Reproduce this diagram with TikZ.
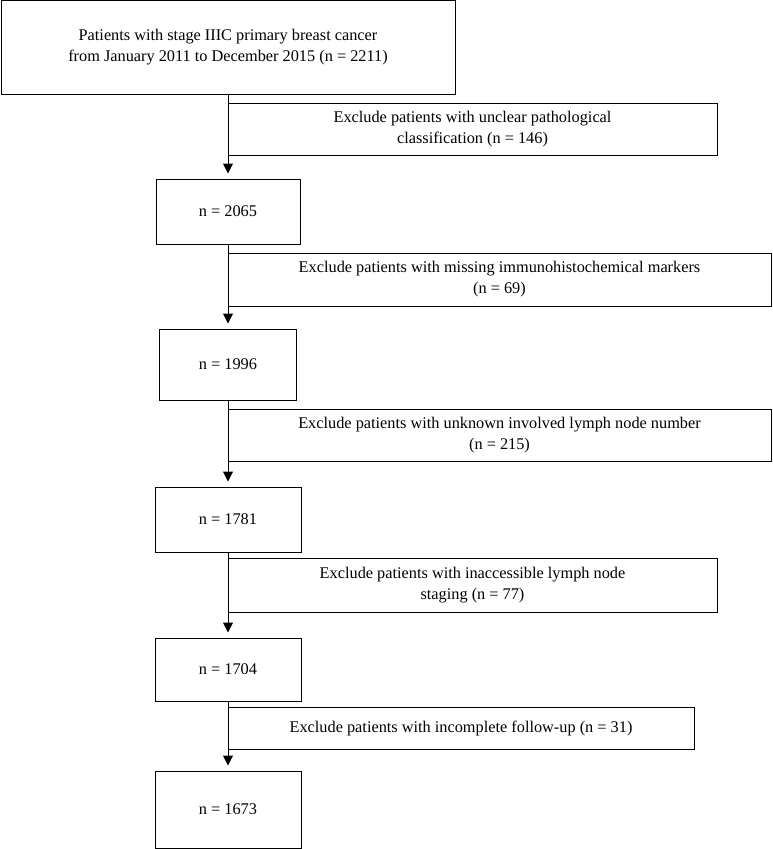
\documentclass[tikz,border=0pt]{standalone}
\usepackage{fontspec}
\setmainfont{Liberation Serif}
\usetikzlibrary{arrows.meta}
\begin{document}
\begin{tikzpicture}[x=1pt, y=-1pt,
  box/.style={draw, line width=1pt, align=center, inner sep=0pt, font=\fontsize{16.3}{21}\selectfont},
  flow/.style={line width=1pt, -{Triangle[length=10pt, width=10pt]}, shorten >=5pt}]
\useasboundingbox (0,0) rectangle (773,849);

% Main boxes
\node[box, minimum width=454pt, minimum height=94pt] (start) at (228,47.5)
  {Patients with stage IIIC primary breast cancer\\from January 2011 to December 2015 (n = 2211)};
\node[box, minimum width=144pt, minimum height=65pt] (n2065) at (228,211.5) {n = 2065};
\node[box, minimum width=137pt, minimum height=71pt] (n1996) at (228,364.5) {n = 1996};
\node[box, minimum width=146pt, minimum height=65pt] (n1781) at (228,519.5) {n = 1781};
\node[box, minimum width=146pt, minimum height=63pt] (n1704) at (228,669.5) {n = 1704};
\node[box, minimum width=146pt, minimum height=77pt] (n1673) at (228,809.5) {n = 1673};

% Exclusion boxes
\node[box, minimum width=489pt, minimum height=52pt] (ex1) at (472.5,129)
  {Exclude patients with unclear pathological\\classification (n = 146)};
\node[box, minimum width=543pt, minimum height=53pt] (ex2) at (499.5,279.5)
  {Exclude patients with missing immunohistochemical markers\\(n = 69)};
\node[box, minimum width=543pt, minimum height=52pt] (ex3) at (499.5,435)
  {Exclude patients with unknown involved lymph node number\\(n = 215)};
\node[box, minimum width=489pt, minimum height=54pt] (ex4) at (472.5,585)
  {Exclude patients with inaccessible lymph node\\staging (n = 77)};
\node[box, minimum width=466pt, minimum height=42pt] (ex5) at (461,728)
  {Exclude patients with incomplete follow-up (n = 31)};

% Flow
\draw[flow] (start.south) -- (n2065.north);
\draw[flow] (n2065.south) -- (n1996.north);
\draw[flow] (n1996.south) -- (n1781.north);
\draw[flow] (n1781.south) -- (n1704.north);
\draw[flow] (n1704.south) -- (n1673.north);
\end{tikzpicture}
\end{document}
